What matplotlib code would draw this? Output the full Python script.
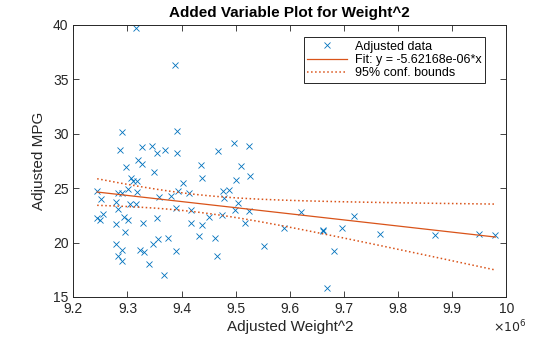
import numpy as np
import matplotlib
matplotlib.use("Agg")
import matplotlib.pyplot as plt
from matplotlib.ticker import FuncFormatter

plt.rcParams['font.family'] = ['Liberation Sans', 'DejaVu Sans']

# adjusted data (x in units of 1e6)
weight2_adj = [9.3165, 9.388, 9.290, 9.392, 9.286, 9.327, 9.346, 9.354, 9.370, 9.392,
               9.468, 9.496, 9.524, 9.319, 9.327, 9.2965, 9.435, 9.509, 9.349, 9.527,
               9.306, 9.437, 9.500, 9.310, 9.317, 9.403, 9.244, 9.301, 9.282, 9.2895,
               9.317, 9.394, 9.413, 9.477, 9.488, 9.251, 9.358, 9.380, 9.479, 9.278,
               9.305, 9.3165, 9.505, 9.283, 9.389, 9.417, 9.499, 9.524, 9.620, 9.2555,
               9.244, 9.249, 9.294, 9.3005, 9.355, 9.451, 9.474, 9.719, 9.2795, 9.329,
               9.417, 9.437, 9.517, 9.590, 9.661, 9.662, 9.697, 9.766, 9.869, 9.949,
               9.980, 9.2956, 9.357, 9.374, 9.433, 9.461, 9.348, 9.2795, 9.553, 9.289,
               9.324, 9.331, 9.389, 9.466, 9.681, 9.283, 9.2906, 9.339, 9.368, 9.6696]
mpg_adj = [39.72, 36.29, 30.20, 30.22, 28.47, 28.77, 28.85, 28.20, 28.50, 28.22,
           28.38, 29.11, 28.84, 27.55, 27.21, 26.93, 27.09, 27.00, 26.45, 26.08,
           25.95, 25.89, 25.71, 25.65, 25.65, 25.46, 24.77, 24.91, 24.54, 24.54,
           24.61, 24.73, 24.54, 24.73, 24.79, 23.99, 24.17, 24.27, 24.08, 23.74,
           23.53, 23.53, 23.67, 23.04, 23.13, 22.95, 23.02, 22.86, 22.78, 22.58,
           22.21, 22.03, 22.31, 22.03, 22.21, 22.31, 22.49, 22.40, 21.66, 21.75,
           21.75, 21.57, 21.83, 21.29, 21.14, 21.02, 21.29, 20.74, 20.65, 20.74,
           20.68, 20.93, 20.34, 20.37, 20.56, 20.37, 19.82, 19.82, 19.64, 19.32,
           19.32, 19.09, 19.18, 18.74, 19.25, 18.72, 18.26, 17.98, 16.97, 15.78]
slope = -5.62168  # per 1e6 -> -5.62168e-06
t_val = 1.986

x = np.array(weight2_adj)
y = np.array(mpg_adj)
n = len(x)
xbar, ybar = x.mean(), y.mean()
resid = y - (ybar + slope * (x - xbar))
s = np.sqrt(np.sum(resid ** 2) / (n - 3))
sxx = np.sum((x - xbar) ** 2)

xf = np.linspace(x.min(), x.max(), 200)
yf = ybar + slope * (xf - xbar)
hw = t_val * s * np.sqrt(1 / n + (xf - xbar) ** 2 / sxx)

blue = '#0072BD'
orange = '#D95319'
dark = '#262626'

fig = plt.figure(figsize=(5.6, 3.37), dpi=100)
ax = fig.add_axes([0.131, 0.119, 0.773, 0.807])

ax.plot(x, y, 'x', color=blue, markersize=5, markeredgewidth=0.6, label='Adjusted data')
ax.plot(xf, yf, '-', color=orange, lw=0.9, label='Fit: y = -5.62168e-06*x')
ax.plot(xf, yf + hw, ':', color=orange, lw=1.1, label='95% conf. bounds')
ax.plot(xf, yf - hw, ':', color=orange, lw=1.1)

ax.set_xlim(9.2, 10)
ax.set_ylim(15, 40)
ax.set_xticks(np.arange(9.2, 10.01, 0.1))
ax.set_yticks([15, 20, 25, 30, 35, 40])
ax.xaxis.set_major_formatter(FuncFormatter(lambda v, p: f"{v:g}"))
ax.tick_params(direction='in', top=True, right=True, labelsize=10, colors=dark, length=4, width=0.6)
for sp in ax.spines.values():
    sp.set_color(dark)
    sp.set_linewidth(0.7)

ax.set_title('Added Variable Plot for Weight^2', fontsize=11, fontweight='bold', pad=6)
ax.set_xlabel('Adjusted Weight^2', fontsize=11, color=dark, labelpad=3)
ax.set_ylabel('Adjusted MPG', fontsize=11, color=dark, labelpad=5)
ax.text(0.97, -0.112, r'$\times10^{6}$', transform=ax.transAxes, fontsize=9,
        ha='left', va='center', color=dark)

leg = ax.legend(loc='upper right', bbox_to_anchor=(0.9515, 0.956), borderaxespad=0,
                fontsize=9, fancybox=False, framealpha=1, edgecolor=dark,
                handlelength=3.2, handletextpad=0.6, labelspacing=0.1, borderpad=0.3)
leg.get_frame().set_linewidth(0.7)

fig.savefig('out.png', dpi=100)
